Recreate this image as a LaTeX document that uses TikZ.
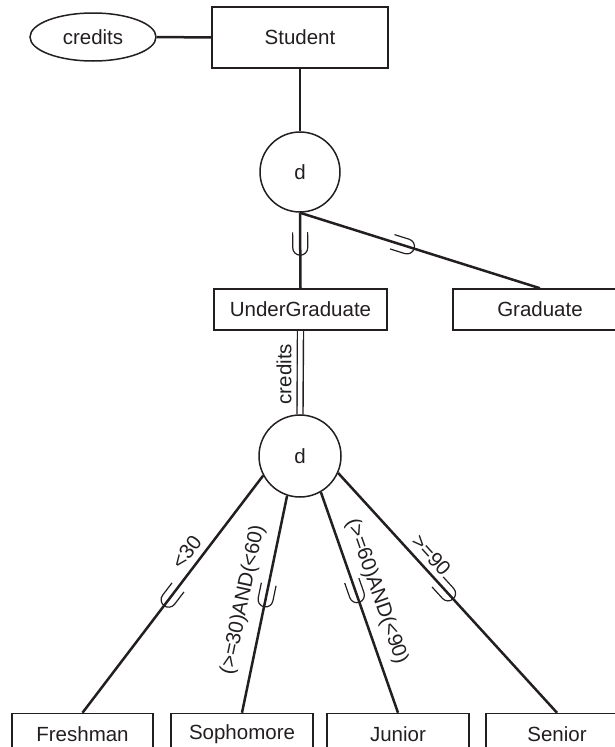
\documentclass[tikz,border=0pt]{standalone}
\usepackage{fontspec}
\setmainfont{Liberation Sans}
\usetikzlibrary{shapes.geometric,decorations.markings,calc}
\definecolor{ink}{RGB}{35,31,32}
\pgfdeclarelayer{bg}
\pgfsetlayers{bg,main}
\tikzset{
  txt/.style={font=\fontsize{20.5}{24}\selectfont, text=ink},
  ent/.style={txt, draw=ink, line width=1.5pt, rectangle, inner sep=0pt, minimum height=41pt},
  attr/.style={txt, draw=ink, line width=1.5pt, ellipse, inner sep=0pt, minimum width=126pt, minimum height=48pt},
  dnode/.style={txt, draw=ink, line width=1.5pt, circle, inner sep=0pt},
  conn/.style={draw=ink, line width=2.5pt},
  dbl/.style={draw=ink, line width=1.4pt, double, double distance=4.6pt},
  lbl/.style={txt, inner sep=2pt},
  subsetat/.style={postaction={decorate}, decoration={markings, mark=at position #1 with {\draw[draw=ink, line width=1.2pt] (-11.5pt,7.5pt) -- (4pt,7.5pt) arc[start angle=90, end angle=-90, radius=7.5pt] -- (-11.5pt,-7.5pt);}}}
}
\begin{document}
\begin{tikzpicture}[x=1pt,y=1pt]
\useasboundingbox (0,0) rectangle (615,-747);
\clip (0,0) rectangle (615,-747);
% nodes
\node[attr] (cred) at (93,-37) {credits};
\node[ent, minimum width=176pt, minimum height=61pt] (student) at (300,-37.5) {Student};
\node[dnode, minimum size=80pt] (d1) at (300,-172) {d};
\node[ent, minimum width=173pt] (ug) at (300.5,-309.5) {UnderGraduate};
\node[ent, minimum width=174pt] (grad) at (540,-309.5) {Graduate};
\node[dnode, minimum size=82pt] (d2) at (300,-456) {d};
\node[ent, minimum width=141pt] (fr) at (82.5,-734) {Freshman};
\node[ent, minimum width=142pt] (so) at (242,-734) {Sophomore};
\node[ent, minimum width=142pt] (ju) at (398,-734) {Junior};
\node[ent, minimum width=142pt] (se) at (557,-734) {Senior};
% connectors
\begin{pgfonlayer}{bg}
\draw[conn] (cred.east) -- (student.west);
\draw[conn] (student.south) -- (d1.north);
\draw[conn, subsetat=0.41] (d1.south) -- (ug.north);
\draw[conn, subsetat=0.43] (d1.south) -- (grad.north);
\draw[dbl] (ug.south) -- node[lbl, rotate=90, above=6pt, pos=0.52] {credits} (d2.north);
\draw[conn, subsetat=0.51] (d2.208) -- node[lbl, sloped, above=4pt, pos=0.36] {<30} (fr.north);
\draw[conn, subsetat=0.46] (d2.252) -- node[lbl, sloped, above=9pt, pos=0.5] {(>=30)AND(<60)} (so.north);
\draw[conn, subsetat=0.45] (d2.300) -- node[lbl, sloped, above=7pt, pos=0.48] {(>=60)AND(<90)} (ju.north);
\draw[conn, subsetat=0.49] (d2.336) -- node[lbl, sloped, above=3pt, pos=0.38] {>=90} (se.north);
\end{pgfonlayer}
\end{tikzpicture}
\end{document}
